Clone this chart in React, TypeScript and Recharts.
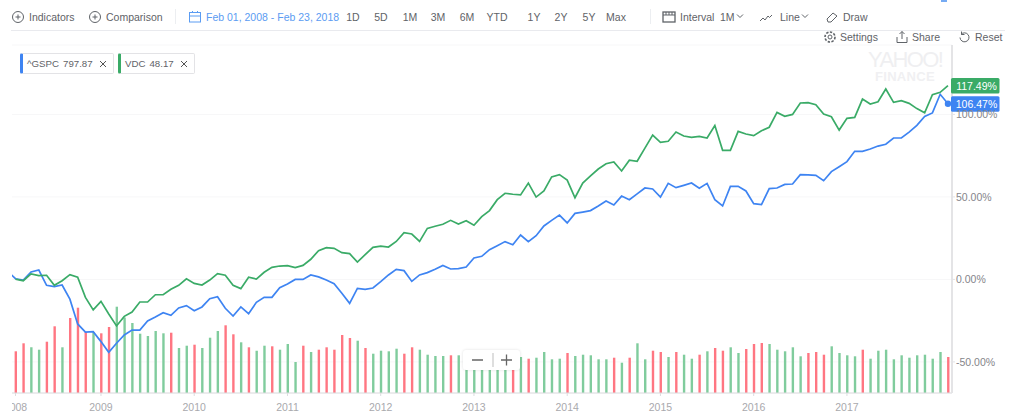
/**
 * Yahoo Finance style comparison chart: ^GSPC vs VDC, % change with monthly
 * volume bars. Toolbar and chips are plain HTML on top of the Recharts chart.
 */
import type { CSSProperties, ReactNode } from "react";
import { Bar, CartesianGrid, Cell, ComposedChart, Line, ReferenceDot, XAxis, YAxis } from "recharts";

const FONT = '"Liberation Sans", Arial, sans-serif';
const BLUE = "#3e84f2";
const GREEN = "#3aab67";

// First entry of each series is Jan 2008, which sits just off the left edge.
const gspc = [
	4.9, 0.4, -0.4, 4.5, 5.7, -3.6, -4.4, -3.4, -12, -27, -32, -31.7, -37.7, -44.2, -38.7, -33.7, -30.7, -30.7, -25.2,
	-22.8, -20.2, -21.8, -17.3, -15.9, -19, -16.7, -11.7, -10.5, -17.5, -22.2, -16.7, -20.8, -13.9, -10.9, -10.9, -5,
	-2.8, 0, 0, 2.7, 1.5, -0.4, -2.6, -8.4, -14.5, -5.4, -6, -5.2, -1.4, 2.7, 6.1, 5.3, -1.2, 2.7, 4.1, 6.1, 8.5, 6.3,
	6.5, 7.5, 13, 14, 18, 20.4, 22.9, 21, 26.9, 22.9, 26.5, 32.4, 35.8, 39, 34.2, 40, 40.8, 41.7, 44.5, 47.5, 45.1, 50.5,
	48.3, 51.8, 55.4, 54.8, 49.9, 58.2, 55.6, 57, 58.4, 55.2, 58.2, 48.3, 44.5, 56.4, 56.4, 53.6, 45.9, 45.3, 55, 55.4,
	57.6, 57.8, 63.5, 63.3, 63.1, 59.8, 65.3, 68.3, 71.4, 77.6, 77.6, 79, 80.8, 81.9, 85.7, 85.7, 89.3, 93.4, 98.8, 100.9,
	112.2, 106.47,
];

const vdc = [
	null, 0.2, -0.8, 3.3, 2.3, 2.5, -3.6, -0.8, 2.9, 1.3, -10.9, -18.5, -13.3, -21, -28.2, -22.4, -19.8, -13.7, -13.7,
	-9.3, -9.3, -6, -3.6, 0.4, -2.4, -3.4, -0.4, 3.5, 2.5, -3.6, -5.6, 1.3, 0.2, 4.3, 7.3, 8.1, 8.3, 7.1, 8.5, 12.2, 17.4,
	19.2, 18.8, 16.2, 15.6, 10.5, 15, 19.4, 20.2, 19.6, 23, 28.3, 27.5, 23, 30.9, 32.2, 33.4, 35.8, 33.6, 35.6, 32.8, 38,
	41.7, 48.3, 52.2, 51.6, 51.2, 58.4, 49.9, 53.6, 62.1, 63.5, 60.2, 49.5, 58.4, 62.7, 66.9, 70.1, 71.2, 65.7, 72.2,
	71.6, 79.6, 87.5, 83.1, 83.7, 89.3, 86.9, 86.1, 86.7, 85.7, 93.2, 78.2, 78.2, 89.7, 88.1, 87.1, 90.1, 92.2, 101.2,
	98.8, 100, 106.9, 107.1, 105.9, 100.2, 98.6, 90.5, 97.6, 98.2, 109.3, 106.3, 107.7, 115.4, 107.3, 108.3, 106.7, 103.5,
	101, 112, 113.4, 117.49,
];

const volume = [
	null, 41.7, 49.7, 45.7, 43.3, 51.3, 66.7, 45.7, 75, 85.3, 61, 61, 59.7, 66, 86.3, 75.5, 70, 59.3, 57, 62, 59.7, 60.3,
	45, 47.3, 48.3, 45, 55.3, 62, 67.7, 58.7, 50.7, 45.7, 42.3, 47.3, 46.7, 43.3, 49, 31, 47.3, 41, 43.3, 45.7, 43.3, 58,
	55, 52.3, 45, 39.3, 42.3, 41.7, 44.3, 39.3, 45.7, 43.3, 38.3, 37, 37, 37.7, 37.7, 36, 35, 36, 34, 36, 35, 37, 36, 34.3,
	35.3, 41, 33.7, 34.3, 40, 37, 38.3, 37.7, 33.7, 33.7, 35.3, 30.3, 35.3, 49.7, 33.7, 42.3, 41, 36, 41, 38.3, 34.3, 38.3,
	41.7, 45, 42.3, 45.7, 40, 44, 49, 50, 49, 43.3, 41.7, 45.7, 36.7, 40, 41, 38.3, 46.7, 40, 37.7, 36.7, 43.3, 34.3, 42.3,
	43.3, 33.7, 37.7, 35.3, 37.7, 38.3, 34.3, 41, 36,
];

// months whose volume bar is red
const downMonths = [
	1, 2, 5, 6, 8, 9, 10, 12, 13, 21, 24, 28, 29, 31, 34, 38, 40, 41, 42, 43, 44, 46, 51, 52, 57, 65, 67, 72, 78, 80, 83,
	84, 86, 89, 91, 92, 95, 96, 97, 103, 104, 105, 110, 121,
];

const xTickMonths = [1, 12, 24, 36, 48, 60, 72, 84, 96, 108];
const xTickLabels = ["2008", "2009", "2010", "2011", "2012", "2013", "2014", "2015", "2016", "2017"];
const yTicks = [-50, 0, 50, 100];

const rows = gspc.map((v, i) => ({
	month: i,
	gspc: v,
	vdc: vdc[i],
	volume: volume[i],
	down: downMonths.includes(i),
}));

const rangeButtons = [
	["1D", 353],
	["5D", 381],
	["1M", 410],
	["3M", 438],
	["6M", 467],
	["YTD", 497],
	["1Y", 534],
	["2Y", 561],
	["5Y", 589],
	["Max", 616],
] as const;

function Label({ x, y, children, style }: { x: number; y: number; children: ReactNode; style?: CSSProperties }) {
	return (
		<div style={{ position: "absolute", left: x, top: y, lineHeight: "14px", whiteSpace: "nowrap", ...style }}>
			{children}
		</div>
	);
}

function Icon({ x, y, w = 14, h = 14, children }: { x: number; y: number; w?: number; h?: number; children: ReactNode }) {
	return (
		<svg
			width={w}
			height={h}
			viewBox={`0 0 ${w} ${h}`}
			style={{ position: "absolute", left: x, top: y }}
			fill="none"
			stroke="#5f6368"
			strokeWidth={1}
		>
			{children}
		</svg>
	);
}

function PlusCircle({ x }: { x: number }) {
	return (
		<Icon x={x} y={10}>
			<circle cx={7} cy={7} r={5.5} />
			<path d="M4.5 7h5M7 4.5v5" />
		</Icon>
	);
}

function Chevron({ x }: { x: number }) {
	return (
		<Icon x={x} y={13} w={8} h={6}>
			<path d="M1 1.5l3 3 3-3" />
		</Icon>
	);
}

function Chip({ x, w, color, name, value }: { x: number; w: number; color: string; name: string; value: string }) {
	return (
		<div
			style={{
				position: "absolute",
				left: x,
				top: 53,
				width: w,
				height: 21,
				boxSizing: "border-box",
				background: "#fff",
				border: "1px solid #e3e3e6",
				borderLeft: `3px solid ${color}`,
				borderRadius: 2,
				fontSize: 9.7,
			}}
		>
			<span style={{ position: "absolute", left: 4, top: 2.5, lineHeight: "14px", whiteSpace: "nowrap" }}>
				{name}
				<span style={{ marginLeft: 4 }}>{value}</span>
			</span>
			<svg width={8} height={8} style={{ position: "absolute", right: 6, top: 6 }} stroke="#555" strokeWidth={1}>
				<path d="M1 1l6 6M7 1l-6 6" />
			</svg>
		</div>
	);
}

// Right hand value badge, placed through the chart's own scales
function Badge({ cy, fill, text }: { cy?: number; fill: string; text: string }) {
	const top = (cy ?? 0) - 7.5;
	return (
		<g>
			<rect x={951} y={top} width={48.5} height={15.5} rx={1.5} fill={fill} />
			<text x={976.5} y={top + 11.5} textAnchor="middle" fontSize={10.5} fontFamily={FONT} fill="#fff">
				{text}
			</text>
		</g>
	);
}

function XTick({ x, y, payload }: any) {
	const label = xTickLabels[xTickMonths.indexOf(payload.value)];
	return (
		<g>
			<clipPath id={`xt-${label}`}>
				<rect x={12} y={y} width={1012} height={30} />
			</clipPath>
			<text
				x={x}
				y={y + 13}
				textAnchor="middle"
				fontSize={10.5}
				fontFamily={FONT}
				fill="#a9a9ad"
				clipPath={`url(#xt-${label})`}
			>
				{label}
			</text>
		</g>
	);
}

export default function App() {
	return (
		<div
			style={{
				position: "absolute",
				left: 0,
				top: 0,
				width: 1024,
				height: 416,
				overflow: "hidden",
				background: "#fff",
				fontFamily: FONT,
				fontSize: 10.5,
				color: "#5f6368",
			}}
		>
			<ComposedChart
				width={1024}
				height={416}
				data={rows}
				margin={{ top: 45, right: 0, bottom: 0, left: 12 }}
				style={{ position: "absolute", left: 0, top: 0 }}
			>
				<CartesianGrid yAxisId="pct" vertical={false} stroke="#f7f7f8" strokeWidth={1} />
				<XAxis
					dataKey="month"
					type="number"
					domain={[0.55, 121.52]}
					allowDataOverflow
					ticks={xTickMonths}
					interval={0}
					height={23}
					tick={<XTick />}
					tickSize={3}
					stroke="#dcdcdf"
				/>
				<YAxis yAxisId="vol" hide domain={[0, 348]} />
				<YAxis
					yAxisId="pct"
					orientation="right"
					width={72}
					domain={[-68.85, 142.06]}
					ticks={yTicks}
					allowDataOverflow
					tickSize={3}
					tickMargin={1}
					tickFormatter={(v: number) => `${v.toFixed(2)}%`}
					tick={{ fontSize: 10.5, fontFamily: FONT, fill: "#85858a" }}
					axisLine={{ stroke: "#e4e4e6", strokeWidth: 2 }}
					tickLine={{ stroke: "#e4e4e6" }}
				/>
				<Bar yAxisId="vol" dataKey="volume" barSize={2.4} isAnimationActive={false}>
					{rows.map((r) => (
						<Cell key={r.month} fill={r.down ? "#ff7682" : "#80cc9d"} />
					))}
				</Bar>
				<Line
					yAxisId="pct"
					dataKey="gspc"
					stroke={BLUE}
					strokeWidth={1.7}
					dot={false}
					isAnimationActive={false}
				/>
				<Line
					yAxisId="pct"
					dataKey="vdc"
					stroke={GREEN}
					strokeWidth={1.7}
					dot={false}
					isAnimationActive={false}
				/>
				<ReferenceDot yAxisId="pct" x={121} y={106.47} r={3.2} fill={BLUE} stroke="none" ifOverflow="visible" />
				<ReferenceDot
					yAxisId="pct"
					x={121}
					y={117.49}
					ifOverflow="visible"
					shape={(p: any) => <Badge cy={p.cy} fill={GREEN} text="117.49%" />}
				/>
				<ReferenceDot
					yAxisId="pct"
					x={121}
					y={106.47}
					ifOverflow="visible"
					shape={(p: any) => <Badge cy={p.cy} fill={BLUE} text="106.47%" />}
				/>
			</ComposedChart>

			{/* watermark */}
			<Label x={868} y={51} style={{ fontSize: 22, lineHeight: "18px", color: "#efeff1", letterSpacing: -1.6 }}>
				YAHOO!
			</Label>
			<Label x={875} y={71} style={{ fontSize: 13, lineHeight: "11px", fontWeight: 700, color: "#f0f0f2", letterSpacing: 0.3 }}>
				FINANCE
			</Label>

			{/* toolbar */}
			<PlusCircle x={11} />
			<Label x={29} y={10}>Indicators</Label>
			<PlusCircle x={88} />
			<Label x={106} y={10}>Comparison</Label>
			<div style={{ position: "absolute", left: 175, top: 9, width: 1, height: 15, background: "#eceef1" }} />
			<Icon x={188} y={10}>
				<g stroke="#5b9cf2">
					<rect x={1.5} y={2.5} width={11} height={9.5} />
					<path d="M1.5 6h11M4.5 1v2M9.5 1v2" />
				</g>
			</Icon>
			<Label x={206} y={10} style={{ color: "#5b9cf2" }}>
				Feb 01, 2008 - Feb 23, 2018
			</Label>
			{rangeButtons.map(([t, x]) => (
				<Label key={t} x={x} y={10} style={{ transform: "translateX(-50%)" }}>
					{t}
				</Label>
			))}
			<div style={{ position: "absolute", left: 650, top: 9, width: 1, height: 15, background: "#eceef1" }} />
			<Icon x={662} y={10}>
				<rect x={1} y={2} width={12} height={10} strokeWidth={1.3} />
				<path d="M1 5h12M4 2v3M7 2v3M10 2v3" />
			</Icon>
			<Label x={680} y={10}>Interval</Label>
			<Label x={720} y={10}>1M</Label>
			<Chevron x={736} />
			<Icon x={759} y={10}>
				<path d="M1 11l3-3 2 2 3-4 1.5 1.5L13 5" />
			</Icon>
			<Label x={780} y={10}>Line</Label>
			<Chevron x={801} />
			<Icon x={825} y={10}>
				<path d="M2 9l6-6 4 3-6 6H3z" />
			</Icon>
			<Label x={843} y={10}>Draw</Label>
			<div style={{ position: "absolute", left: 11, top: 30, width: 994, height: 1, background: "#e9eaee" }} />

			{/* right side controls */}
			<Icon x={940} y={-7} w={8} h={10}>
				<path d="M1 8h6M4 0v7" stroke="#4a90f0" strokeWidth={1.5} />
			</Icon>
			<Label x={953} y={-11} style={{ color: "#4a90f0" }}>Full screen</Label>
			<Icon x={823} y={30}>
				<circle cx={7} cy={7} r={2} />
				<circle cx={7} cy={7} r={5} strokeDasharray="2.4 1.4" strokeWidth={1.6} />
			</Icon>
			<Label x={840} y={30}>Settings</Label>
			<Icon x={895} y={30}>
				<path d="M7 9V1.5M4.5 4L7 1.5 9.5 4M2 7v5.5h10V7" />
			</Icon>
			<Label x={912} y={30}>Share</Label>
			<Icon x={957} y={30}>
				<path d="M4 4.5a4.5 4.5 0 1 1-1 3M4.5 1.5v3h3" />
			</Icon>
			<Label x={975} y={30}>Reset</Label>

			{/* series chips */}
			<Chip x={20} w={94} color={BLUE} name="^GSPC" value="797.87" />
			<Chip x={118} w={77} color={GREEN} name="VDC" value="48.17" />

			{/* zoom control */}
			<div
				style={{
					position: "absolute",
					left: 463,
					top: 350,
					width: 57,
					height: 20,
					background: "#fff",
					borderRadius: 3,
					boxShadow: "0 0 3px rgba(0,0,0,0.12)",
				}}
			>
				<svg width={57} height={20} stroke="#666" strokeWidth={1.3}>
					<path d="M9 10h11M38 10h11M43.5 4.5v11" />
					<path d="M30 3v14" stroke="#ccc" />
				</svg>
			</div>
		</div>
	);
}
